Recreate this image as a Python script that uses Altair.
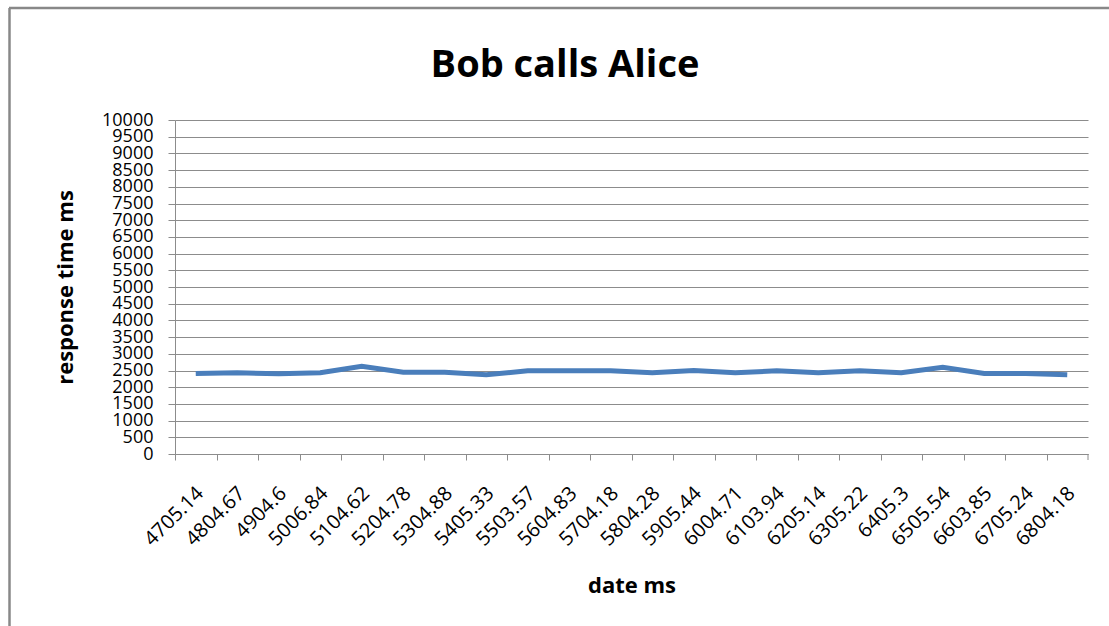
import altair as alt
import pandas as pd

# ---- data ----
dates = ["4705.14", "4804.67", "4904.6", "5006.84", "5104.62", "5204.78",
         "5304.88", "5405.33", "5503.57", "5604.83", "5704.18", "5804.28",
         "5905.44", "6004.71", "6103.94", "6205.14", "6305.22", "6405.3",
         "6505.54", "6603.85", "6705.24", "6804.18"]
response = [2410, 2430, 2400, 2430, 2630, 2450, 2450, 2370, 2490, 2490,
            2490, 2430, 2500, 2430, 2490, 2430, 2490, 2430, 2600, 2410,
            2410, 2370]
y_ticks = list(range(0, 10001, 500))
title_text = "Bob calls Alice"

df = pd.DataFrame({"date": dates, "resp": response})

W, H = 913, 334
step = W / len(dates)
FONT = "Open Sans"
GRAY = "#8C8C8C"

line = alt.Chart(df).mark_line(color="#4A7EBB", strokeWidth=5).encode(
    x=alt.X("date:N", sort=dates,
            scale=alt.Scale(type="point", padding=0.5),
            axis=alt.Axis(title="date ms", labelAngle=-45, labelAlign="right",
                          labelBaseline="middle", labelFont=FONT, labelFontSize=20,
                          labelColor="#000", labelPadding=30, labelOverlap=False,
                          tickOffset=-step / 2, labelOffset=step / 2 + 4,
                          tickSize=6, tickColor=GRAY, domainColor=GRAY,
                          grid=False, titleFont=FONT, titleFontSize=22,
                          titleFontWeight="bold", titleColor="#000",
                          titleX=W / 2, titleY=131, titleBaseline="middle",
                          titleAlign="center")),
    y=alt.Y("resp:Q",
            scale=alt.Scale(domain=[0, 10000], nice=False),
            axis=alt.Axis(title="response time ms", values=y_ticks, format="d",
                          labelFont=FONT, labelFontSize=18, labelColor="#000",
                          labelOverlap=False, labelBound=False,
                          labelPadding=15, tickSize=7, tickColor=GRAY,
                          domainColor=GRAY, gridColor=GRAY, gridOpacity=1,
                          titleFont=FONT, titleFontSize=22, titleFontWeight="bold",
                          titleColor="#000", titleX=-110, titleY=H / 2,
                          titleAngle=-90, titleBaseline="middle",
                          titleAlign="center")),
)

one = pd.DataFrame({"k": [0]})
title = alt.Chart(one).mark_text(font=FONT, fontSize=38, fontWeight="bold",
                                 color="#000", align="center",
                                 baseline="alphabetic").encode(
    x=alt.value(565 - 175), y=alt.value(77 - 120), text=alt.value(title_text))
last_tick = alt.Chart(one).mark_rule(color=GRAY, strokeWidth=1).encode(
    x=alt.value(W), y=alt.value(H), y2=alt.value(H + 6))
frame_left = alt.Chart(one).mark_rule(color="#888888", strokeWidth=2.5).encode(
    x=alt.value(9.5 - 175), y=alt.value(8 - 120), y2=alt.value(626 - 120 + 5))
frame_top = alt.Chart(one).mark_rule(color="#888888", strokeWidth=2.5).encode(
    x=alt.value(9 - 175), x2=alt.value(1109 - 175 + 5), y=alt.value(8 - 120))

chart = alt.layer(line, title, last_tick, frame_left, frame_top).properties(
    width=W, height=H,
    autosize=alt.AutoSizeParams(type="none"),
    padding={"left": 175, "top": 120, "right": 21, "bottom": 172},
    background="white",
).configure_view(stroke=None)

chart.save("out.html", embed_options={"renderer": "svg", "actions": False})
